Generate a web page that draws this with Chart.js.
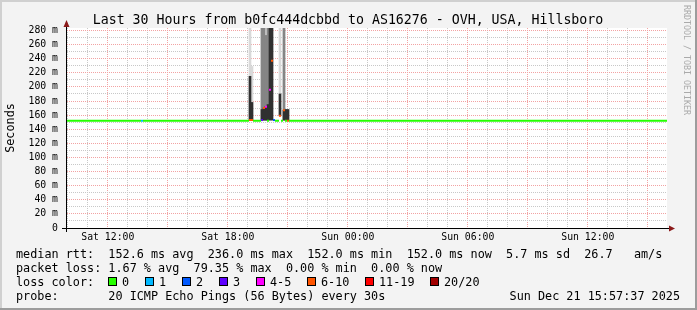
<!DOCTYPE html>
<html>
<head>
<meta charset="utf-8">
<script src="https://cdn.jsdelivr.net/npm/chart.js@4.4.1/dist/chart.umd.min.js"></script>
<style>
html, body { margin: 0; padding: 0; background: #f3f3f3; }
#wrap { position: relative; width: 697px; height: 310px; overflow: hidden; }
canvas { position: absolute; left: 0; top: 0; }
</style>
</head>
<body>
<div id="wrap"><canvas id="chart" width="697" height="310"></canvas></div>
<script>
const TITLE = "Last 30 Hours from b0fc444dcbbd to AS16276 - OVH, USA, Hillsboro";
const T_START = 9 + 57 / 60 + 37 / 3600;   // Sat 09:57:37, hours since Sat 00:00
const T_END = T_START + 30;                 // Sun 15:57:37

const xLabelHours = [12, 18, 24, 30, 36];
const xLabels = ["Sat 12:00", "Sat 18:00", "Sun 00:00", "Sun 06:00", "Sun 12:00"];
const yLabelValues = [0, 20, 40, 60, 80, 100, 120, 140, 160, 180, 200, 220, 240, 260, 280];
const yLabels = ["0", "20 m", "40 m", "60 m", "80 m", "100 m", "120 m", "140 m", "160 m",
                 "180 m", "200 m", "220 m", "240 m", "260 m", "280 m"];

// median rtt in ms, one value per interval between consecutive bounds, with lost pings (of 20)
const medBounds = [T_START, 13.66, 13.76, 19.06, 19.16, 19.26, 19.36, 19.46, 19.56, 19.66,
                   19.76, 19.86, 19.96, 20.06, 20.16, 20.26, 20.36, 20.46, 20.56, 20.66,
                   20.76, 20.86, 20.96, 21.06, T_END];
const medValues = [152, 152, 152, 153, 153, 152, 152, 152, 152, 153, 170, 172, 152, 196,
                   237, 153, 152, 152, 159, 152, 167, 152, 152, 152];
const medLoss   = [0, 1, 0, 7, 7, 0, 0, 0, 0, 3, 8, 5, 0, 5, 8, 2, 0, 0, 7, 0, 8, 0, 9, 0];

// smoke: spread of the 20 pings during the disturbed stretch (ms), one entry per step
const smokeTimes = [19.11, 19.21, 19.31, 19.41, 19.51, 19.61, 19.71, 19.81, 19.91, 20.01,
                    20.11, 20.21, 20.31, 20.41, 20.51, 20.61, 20.71, 20.81, 20.91, 21.01];
const smokeMin  = [153, 153, null, null, null, null, 153, 153, 153, 153, 153, 153, null, null, null, 159, null, 153, 153, 152];
const smokeMax  = [290, 229, null, null, null, null, 290, 290, 290, 290, 290, 290, null, null, null, 290, null, 290, 168, 168];
const smokeMid  = [null, null, null, null, null, null, 290, 290, 273, 290, null, null, null, null, null, null, null, 290, null, null];
const smokeCore = [215, 178, null, null, null, null, 168, 170, 172, 175, 290, 290, null, null, null, 190, null, 167, 168, 168];

const lossLabels = ["0", "1", "2", "3", "4-5", "6-10", "11-19", "20/20"];
const lossUpper  = [0, 1, 2, 3, 5, 10, 19, 20];
const lossColors = ["#26ff00", "#00b8ff", "#0059ff", "#5e00ff", "#ff00ff", "#ff5500", "#ff0000", "#a10000"];

const legendRtt  = "median rtt:  152.6 ms avg  236.0 ms max  152.0 ms min  152.0 ms now  5.7 ms sd  26.7   am/s";
const legendLoss = "packet loss: 1.67 % avg  79.35 % max  0.00 % min  0.00 % now";
const legendProbe = "probe:       20 ICMP Echo Pings (56 Bytes) every 30s";
const stamp = "Sun Dec 21 15:57:37 2025";

const MONO = '"DejaVu Sans Mono", monospace';

function lossClass(n) {
  for (let i = 0; i < lossUpper.length; i++) if (n <= lossUpper[i]) return i;
  return lossUpper.length - 1;
}

// one line dataset per loss colour, each interval drawn flat, gaps between runs
const medianSets = lossColors.map((color, c) => {
  const pts = [];
  for (let i = 0; i < medValues.length; i++) {
    if (lossClass(medLoss[i]) !== c) continue;
    pts.push({ x: medBounds[i], y: medValues[i] });
    pts.push({ x: medBounds[i + 1], y: medValues[i] });
    if (i + 1 >= medValues.length || lossClass(medLoss[i + 1]) !== c) pts.push({ x: medBounds[i + 1], y: null });
  }
  return { type: "line", data: pts, borderColor: color, borderWidth: 2, pointRadius: 0,
           spanGaps: false, tension: 0, order: 0 };
});

function smokeSet(tops, color, order) {
  const pts = [];
  smokeTimes.forEach((t, i) => {
    if (tops[i] != null && smokeMin[i] != null) pts.push({ x: t, y: [smokeMin[i], tops[i]] });
  });
  return { type: "bar", data: pts, backgroundColor: color, borderWidth: 0,
           barThickness: 2, grouped: false, order: order };
}

const hourTicks = [];
for (let h = 10; h <= 39; h++) hourTicks.push(h);
const tenTicks = [];
for (let v = 0; v <= 280; v += 10) tenTicks.push(v);

const swatchX = [108, 145, 182, 219, 256, 307, 365, 430];

const decor = {
  id: "decor",
  afterDraw(chart) {
    const ctx = chart.ctx;
    const a = chart.chartArea;
    ctx.save();
    // axes
    ctx.strokeStyle = "#000";
    ctx.lineWidth = 1;
    ctx.beginPath();
    ctx.moveTo(62, a.bottom + 0.5); ctx.lineTo(670, a.bottom + 0.5);
    ctx.moveTo(a.left - 0.5, a.bottom + 4); ctx.lineTo(a.left - 0.5, 25);
    ctx.stroke();
    ctx.fillStyle = "#8b1a1a";
    ctx.beginPath();
    ctx.moveTo(669, a.bottom - 2.5); ctx.lineTo(675, a.bottom + 0.5); ctx.lineTo(669, a.bottom + 3.5);
    ctx.closePath(); ctx.fill();
    ctx.beginPath();
    ctx.moveTo(a.left - 3.5, 27); ctx.lineTo(a.left - 0.5, 20); ctx.lineTo(a.left + 2.5, 27);
    ctx.closePath(); ctx.fill();

    // texts
    ctx.fillStyle = "#000";
    ctx.textBaseline = "alphabetic";
    ctx.font = "13.25px " + MONO;
    ctx.textAlign = "center";
    ctx.fillText(TITLE, 348, 24);

    ctx.font = "11.8px " + MONO;
    ctx.textAlign = "left";
    ctx.fillText(legendRtt, 16, 258);
    ctx.fillText(legendLoss, 16, 272);
    ctx.fillText("loss color:", 16, 286);
    ctx.fillText(legendProbe, 16, 300);
    ctx.textAlign = "right";
    ctx.fillText(stamp, 680, 300);

    // loss colour swatches
    ctx.textAlign = "left";
    lossLabels.forEach((lab, i) => {
      const x = swatchX[i];
      ctx.fillStyle = lossColors[i];
      ctx.fillRect(x + 0.5, 277.5, 8, 8);
      ctx.strokeStyle = "#000";
      ctx.strokeRect(x + 0.5, 277.5, 8, 8);
      ctx.fillStyle = "#000";
      ctx.fillText(lab, x + 14, 286);
    });

    // vertical labels
    ctx.save();
    ctx.translate(14, 128);
    ctx.rotate(-Math.PI / 2);
    ctx.textAlign = "center";
    ctx.font = "11.8px " + MONO;
    ctx.fillText("Seconds", 0, 0);
    ctx.restore();

    ctx.save();
    ctx.translate(684, 60);
    ctx.rotate(Math.PI / 2);
    ctx.textAlign = "center";
    ctx.font = "8.3px " + MONO;
    ctx.fillStyle = "#aaaaaa";
    ctx.fillText("RRDTOOL / TOBI OETIKER", 0, 0);
    ctx.restore();

    // frame
    ctx.fillStyle = "#d0d0d0";
    ctx.fillRect(0, 0, 697, 2);
    ctx.fillRect(0, 0, 2, 310);
    ctx.fillStyle = "#9c9c9c";
    ctx.fillRect(0, 308, 697, 2);
    ctx.fillRect(695, 0, 2, 310);
    ctx.restore();
  }
};

const plotBg = {
  id: "plotBg",
  beforeDraw(chart) {
    const ctx = chart.ctx, a = chart.chartArea;
    ctx.save();
    ctx.fillStyle = "#f3f3f3";
    ctx.fillRect(0, 0, chart.width, chart.height);
    ctx.fillStyle = "#ffffff";
    ctx.fillRect(a.left, a.top, a.right - a.left, a.bottom - a.top);
    ctx.restore();
  }
};

new Chart(document.getElementById("chart"), {
  type: "line",
  data: {
    datasets: [
      smokeSet(smokeMax, "#d9d9d9", 5),
      smokeSet(smokeMid, "#858585", 4),
      smokeSet(smokeCore, "#303030", 3),
      ...medianSets
    ]
  },
  options: {
    responsive: false,
    devicePixelRatio: 1,
    animation: false,
    events: [],
    layout: { padding: { left: 0, right: 30, top: 28, bottom: 62 } },
    plugins: { legend: { display: false }, tooltip: { enabled: false }, title: { display: false } },
    scales: {
      x: {
        type: "linear",
        offset: false,
        min: T_START,
        max: T_END,
        afterBuildTicks: s => { s.ticks = hourTicks.map(v => ({ value: v })); },
        afterFit: s => { s.height = 20; },
        grid: {
          offset: false,
          drawTicks: false,
          color: c => (c.tick && c.tick.value % 3 === 0) ? "#f2a3a3" : "#c8c8c8"
        },
        border: { display: false, dash: [1, 1] },
        ticks: {
          autoSkip: false,
          maxRotation: 0,
          padding: 4,
          color: "#000",
          font: { family: MONO, size: 9.8 },
          callback: v => { const i = xLabelHours.indexOf(v); return i >= 0 ? xLabels[i] : ""; }
        }
      },
      y: {
        type: "linear",
        min: 0,
        max: 283.5,
        afterBuildTicks: s => { s.ticks = tenTicks.map(v => ({ value: v })); },
        afterFit: s => { s.width = 67; },
        grid: {
          drawTicks: false,
          color: c => (c.tick && c.tick.value % 20 === 0) ? "#f2a3a3" : "#c8c8c8"
        },
        border: { display: false, dash: [1, 1] },
        ticks: {
          autoSkip: false,
          padding: 9,
          color: "#000",
          font: { family: MONO, size: 9.8 },
          callback: v => { const i = yLabelValues.indexOf(v); return i >= 0 ? yLabels[i] : ""; }
        }
      }
    }
  },
  plugins: [plotBg, decor]
});
</script>
</body>
</html>
